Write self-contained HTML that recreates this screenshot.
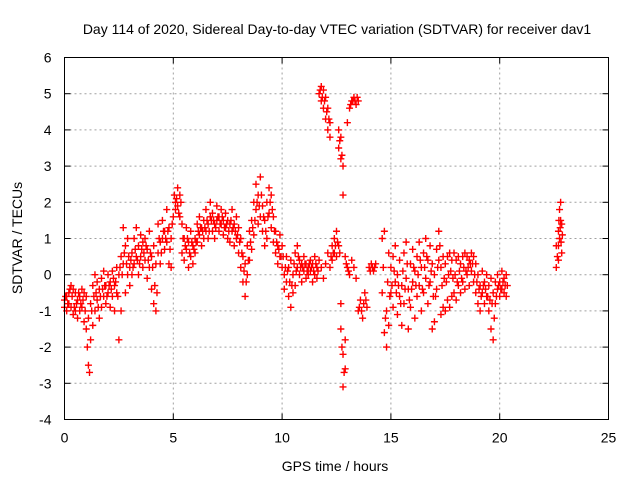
<!DOCTYPE html>
<html><head><meta charset="utf-8"><style>
html,body{margin:0;padding:0;background:#fff;}
svg text{font-family:"Liberation Sans",sans-serif;font-size:14px;fill:#000;}
</style></head><body>
<svg id="chart" width="640" height="480" xmlns="http://www.w3.org/2000/svg">
<rect width="640" height="480" fill="#fff"/>
<text x="337" y="34" text-anchor="middle">Day 114 of 2020, Sidereal Day-to-day VTEC variation (SDTVAR) for receiver dav1</text>
<g id="grid"></g>
<g id="axes"></g>
<g id="points"></g>
<rect x="64.5" y="57.5" width="544" height="362" fill="none" stroke="#000" stroke-width="1"/>
<text x="335" y="471" text-anchor="middle">GPS time / hours</text>
<text transform="translate(22,238) rotate(-90)" text-anchor="middle">SDTVAR / TECUs</text>
</svg>
<script>
const xTicks=[0,5,10,15,20,25];
const yTicks=[-4,-3,-2,-1,0,1,2,3,4,5,6];
const hours=[0.0,0.0,0.1,0.1,0.2,0.2,0.3,0.3,0.4,0.4,0.5,0.5,0.6,0.6,0.7,0.7,0.8,0.8,0.9,0.9,1.0,1.0,1.05,1.1,1.15,1.1,1.2,1.2,1.3,1.3,1.4,1.4,1.5,1.5,1.6,1.6,1.7,1.7,1.8,1.8,1.9,1.9,2.0,2.0,2.1,2.1,2.2,2.2,2.3,2.3,2.4,2.4,2.5,2.5,2.6,2.6,2.7,2.7,2.8,2.8,2.9,2.9,3.0,3.0,3.1,3.1,3.2,3.2,3.3,3.3,3.4,3.4,3.5,3.5,3.6,3.6,3.7,3.7,3.8,3.8,3.9,3.9,4.0,4.0,4.1,4.1,4.2,4.2,4.3,4.3,4.4,4.4,4.5,4.5,4.6,4.6,4.7,4.7,4.8,4.8,4.9,4.9,5.0,5.1,5.1,5.2,5.2,5.3,5.3,5.4,5.4,5.5,5.5,5.6,5.6,5.7,5.7,5.8,5.8,5.9,5.9,6.0,6.0,6.1,6.1,6.2,6.2,6.3,6.3,6.4,6.4,6.5,6.5,6.6,6.6,6.7,6.7,6.8,6.8,6.9,6.9,7.0,7.0,7.1,7.1,7.2,7.2,7.3,7.3,7.4,7.4,7.5,7.5,7.6,7.6,7.7,7.7,7.8,7.8,7.9,7.9,8.0,8.0,8.1,8.1,8.2,8.2,8.3,8.3,8.4,8.4,8.5,8.5,8.6,8.6,8.7,8.7,8.8,8.8,8.9,8.9,9.0,9.0,9.1,9.1,9.2,9.2,9.3,9.3,9.4,9.4,9.5,9.5,9.6,9.6,9.7,9.7,9.8,9.8,9.9,9.9,10.0,10.0,10.1,10.1,10.2,10.2,10.3,10.3,10.4,10.4,10.5,10.5,10.6,10.6,10.7,10.7,10.8,10.8,10.9,10.9,11.0,11.0,11.1,11.1,11.2,11.2,11.3,11.3,11.4,11.4,11.5,11.5,11.6,11.6,11.7,11.7,11.8,11.8,11.9,11.9,12.0,12.0,12.1,12.1,12.2,12.2,11.8,11.9,12.0,12.1,12.2,12.3,12.3,12.4,12.4,12.5,12.5,12.6,12.6,12.6,12.7,12.7,12.8,12.8,12.7,12.7,12.8,12.8,12.9,12.9,12.9,13.0,13.0,13.1,13.1,13.2,13.2,13.3,13.3,13.4,13.4,13.5,13.5,13.6,13.7,13.8,13.9,14.0,14.1,14.2,14.3,14.6,14.6,14.7,14.7,14.8,14.8,14.9,14.9,15.0,15.0,15.1,15.1,15.2,15.2,15.3,15.3,15.4,15.4,15.5,15.5,15.6,15.6,15.7,15.7,15.8,15.8,15.9,15.9,16.0,16.0,16.1,16.1,16.2,16.2,16.3,16.3,16.4,16.4,16.5,16.5,16.6,16.6,16.7,16.7,16.8,16.8,16.9,16.9,17.0,17.0,17.1,17.1,17.2,17.2,17.3,17.3,17.4,17.4,17.5,17.5,17.6,17.6,17.7,17.7,17.8,17.8,17.9,17.9,18.0,18.0,18.1,18.1,18.2,18.2,18.3,18.3,18.4,18.4,18.5,18.5,18.6,18.6,18.7,18.7,18.8,18.8,18.9,18.9,19.0,19.0,19.1,19.1,19.2,19.2,19.3,19.3,19.4,19.4,19.5,19.5,19.6,19.6,19.7,19.7,19.8,19.8,19.9,19.9,20.0,20.0,20.1,20.1,20.2,20.2,20.3,20.3,22.6,22.6,22.7,22.7,22.75,22.75,22.8,22.8,22.85,22.85];
const values=[-0.7,-0.9,-0.6,-1.0,-0.5,-0.8,-0.3,-0.9,-0.4,-1.1,-0.5,-1.0,-0.7,-1.2,-0.6,-1.0,-0.9,-0.4,-1.3,-0.5,-1.5,-0.6,-2.0,-2.5,-2.7,-1.2,-1.8,-0.8,-1.4,-0.3,-1.0,0.0,-0.7,-0.2,-1.2,-0.4,-0.9,-0.1,-0.6,0.1,-0.8,-0.3,-0.5,0.0,-0.9,-0.2,-0.6,0.1,-0.3,-1.0,0.2,-0.5,-1.8,0.0,-1.0,0.5,0.3,1.3,-0.5,0.8,0.0,1.0,0.2,-0.3,0.6,0.0,1.0,0.3,0.5,1.3,0.0,0.8,0.5,1.1,0.2,0.9,0.4,1.0,-0.1,0.7,0.2,1.2,0.5,-0.4,-0.8,0.8,-1.0,0.3,0.6,1.4,0.9,0.3,1.0,1.5,0.7,1.2,1.8,0.9,1.3,0.3,0.2,1.0,1.6,2.0,1.8,2.4,1.9,2.2,1.6,1.4,0.6,1.0,0.4,0.7,1.3,0.9,0.2,0.5,1.2,0.8,0.3,1.0,0.6,1.4,0.9,1.1,1.6,1.3,0.8,1.0,1.5,1.2,1.8,1.4,1.0,1.6,2.0,1.2,1.7,1.4,1.0,1.5,1.9,1.2,1.6,1.4,1.8,1.1,1.5,1.3,1.7,1.0,1.5,1.4,0.9,1.2,1.8,0.8,1.4,1.0,1.6,0.6,1.3,0.2,1.0,-0.2,0.5,-0.6,0.3,0.0,0.8,0.4,1.2,1.5,0.7,2.0,1.1,1.8,2.5,1.4,2.2,2.7,1.6,1.9,1.2,1.5,0.8,2.0,1.0,2.4,1.7,2.2,1.3,1.6,0.9,0.6,1.2,0.8,0.3,1.1,0.5,0.2,0.8,0.0,-0.4,0.5,-0.2,-0.6,0.2,-0.9,0.4,-0.5,0.0,0.6,-0.3,0.2,0.8,0.0,0.4,-0.2,0.3,0.1,0.5,-0.1,0.3,0.2,0.0,0.4,0.1,-0.2,0.3,0.0,0.5,0.2,-0.1,0.4,5.0,5.2,4.8,5.1,4.6,4.9,4.3,4.6,4.0,4.2,3.8,0.2,-0.1,0.3,0.6,0.2,0.8,0.4,1.0,0.6,1.2,0.5,0.8,4.0,3.5,3.2,3.8,3.0,2.2,-0.8,-1.5,-2.2,-3.1,-2.6,-1.8,0.5,0.2,4.2,4.6,0.0,4.8,0.4,4.9,0.2,4.7,-0.1,4.8,-1.0,-0.7,-1.2,-0.5,-0.9,0.2,0.3,0.1,0.3,1.0,-0.5,1.2,-1.6,-2.0,-1.0,-1.4,0.6,-0.5,0.2,-0.9,0.5,-0.2,0.8,-1.1,0.0,-0.6,0.4,-1.4,-0.3,0.6,-0.8,-0.1,0.9,-1.5,-0.4,0.3,-0.9,-0.2,0.7,-1.2,0.1,-0.6,0.5,0.9,-0.3,-1.0,0.2,0.6,-0.5,1.0,-0.1,0.4,-0.8,-0.2,0.8,-1.5,0.3,-1.3,0.0,0.7,-0.4,1.2,0.4,0.2,-1.1,0.5,-0.9,0.3,-1.0,0.5,-0.7,0.6,-0.9,0.4,-0.6,0.6,-0.5,0.4,-0.7,0.5,-0.3,0.3,-0.5,0.5,-0.2,0.6,-0.4,0.5,0.0,0.4,-0.3,0.6,0.1,0.5,-0.2,0.3,-0.5,0.0,-0.8,-0.3,-1.0,0.1,-0.5,-0.2,-0.8,0.0,-0.6,-1.0,-0.3,-1.5,-0.1,-1.8,-0.5,-0.8,-0.2,-0.4,0.0,-0.6,-0.2,-0.4,0.1,-0.5,-0.1,0.0,-0.6,0.2,0.8,1.2,0.4,1.8,1.0,2.0,1.5,0.6,1.4];
const hours2=[0.05,0.15,0.25,0.35,0.45,0.55,0.65,0.75,0.85,0.95,1.25,1.35,1.45,1.55,1.65,1.75,1.85,1.95,2.05,2.15,2.25,2.35,2.45,2.55,2.65,2.75,2.85,2.95,3.05,3.15,3.25,3.35,3.45,3.55,3.65,3.75,3.85,3.95,4.05,4.15,4.25,4.35,4.45,4.55,4.65,4.75,4.85,4.95,5.05,5.15,5.25,5.35,5.45,5.55,5.65,5.75,5.85,5.95,6.05,6.15,6.25,6.35,6.45,6.55,6.65,6.75,6.85,6.95,7.05,7.15,7.25,7.35,7.45,7.55,7.65,7.75,7.85,7.95,8.05,8.15,8.25,8.35,8.45,8.55,8.65,8.75,8.85,8.95,9.05,9.15,9.25,9.35,9.45,9.55,9.65,9.75,9.85,9.95,10.05,10.15,10.25,10.35,10.45,10.55,10.65,10.75,10.85,10.95,11.05,11.15,11.25,11.35,11.45,11.55,11.65,11.75,11.85,11.95,12.05,12.15,12.25,12.35,12.45,12.55,12.65,12.65,12.75,12.75,12.85,12.95,13.05,13.15,13.25,13.35,13.45,13.55,13.65,13.75,13.85,14.05,14.15,14.25,14.65,14.75,14.85,14.95,15.05,15.15,15.25,15.35,15.45,15.55,15.65,15.75,15.85,15.95,16.05,16.15,16.25,16.35,16.45,16.55,16.65,16.75,16.85,16.95,17.05,17.15,17.25,17.35,17.45,17.55,17.65,17.75,17.85,17.95,18.05,18.15,18.25,18.35,18.45,18.55,18.65,18.75,18.85,18.95,19.05,19.15,19.25,19.35,19.45,19.55,19.65,19.75,19.85,19.95,20.05,20.15,20.25,20.35,22.65,22.7,22.72,22.78,22.82,22.88];
const values2=[-0.6,-0.8,-0.4,-0.6,-0.9,-0.8,-0.5,-0.8,-0.7,-1.0,-1.0,-0.6,-0.5,-0.9,-0.6,-0.4,-0.3,-0.6,-0.3,-0.4,-0.1,-0.2,-0.6,0.2,0.0,0.6,0.3,0.5,0.4,0.2,0.7,0.4,0.3,0.7,0.6,0.8,0.4,0.6,0.2,-0.3,-0.5,1.0,0.6,1.2,1.0,1.2,0.7,1.4,2.2,2.1,1.7,2.0,1.0,0.8,1.0,0.6,0.9,0.7,0.9,1.2,1.3,1.2,1.3,1.5,1.2,1.5,1.5,1.3,1.6,1.4,1.6,1.3,1.4,1.2,1.5,1.3,1.2,1.1,0.9,0.6,0.1,-0.2,0.4,0.9,1.3,1.5,2.0,1.9,2.2,1.6,1.2,1.6,2.0,1.8,1.2,0.9,0.7,0.5,0.5,0.2,0.1,-0.2,-0.3,0.3,0.1,0.5,0.2,0.2,0.3,0.1,0.3,0.2,0.1,0.3,0.1,5.1,4.9,4.8,4.5,4.3,0.5,0.6,0.8,0.9,0.6,3.7,3.3,-2.0,-2.7,0.3,0.1,4.7,4.8,4.8,4.9,-0.9,-1.0,-0.8,-0.7,0.1,0.2,0.2,0.2,-1.2,-0.2,-0.6,-0.3,0.1,-0.5,-0.3,-0.8,0.1,-0.4,0.3,-0.7,-0.4,0.2,-0.3,0.0,0.4,-0.4,0.2,0.5,-0.3,0.1,-0.6,-0.6,0.2,0.8,-0.3,-0.1,-0.2,0.0,0.1,-0.1,0.0,-0.2,0.1,-0.1,0.2,0.1,0.2,0.3,0.3,0.0,-0.2,-0.4,-0.6,-0.3,-0.4,-0.6,-0.7,-0.8,-1.2,-0.6,-0.3,-0.4,-0.2,-0.3,-0.3,0.5,0.8,1.5,1.3,0.9,1.1];

const NS='http://www.w3.org/2000/svg';
const L=64.5,R=608.5,T=57.5,B=419.5;
function xs(v){return L+(v-0)/(25-0)*(R-L);}
function ys(v){return B-(v+4)/(6+4)*(B-T);}
const grid=document.getElementById('grid'),axes=document.getElementById('axes'),pts=document.getElementById('points');
function mk(tag,attrs,parent){const e=document.createElementNS(NS,tag);for(const k in attrs)e.setAttribute(k,attrs[k]);parent.appendChild(e);return e;}
xTicks.forEach(v=>{
  const x=xs(v);
  if(v>0&&v<25){const g=mk('line',{x1:x,x2:x,y1:T,y2:B,stroke:'#a0a0a0','stroke-dasharray':'2,3'},grid);
  
  }
  const t1=mk('line',{x1:x,x2:x,y1:B,y2:B-6,stroke:'#000'},axes);
  
  
  const t2=mk('line',{x1:x,x2:x,y1:T,y2:T+6,stroke:'#000'},axes);
  
  
  const tx=mk('text',{x:x,y:B+23,'text-anchor':'middle'},axes);tx.textContent=v;
  
  
});
yTicks.forEach(v=>{
  const y=ys(v);
  if(v>-4&&v<6){const g=mk('line',{x1:L,x2:R,y1:y,y2:y,stroke:'#a0a0a0','stroke-dasharray':'2,3'},grid);
  
  }
  const t1=mk('line',{x1:L,x2:L+6,y1:y,y2:y,stroke:'#000'},axes);
  
  
  const t2=mk('line',{x1:R,x2:R-6,y1:y,y2:y,stroke:'#000'},axes);
  
  
  const tx=mk('text',{x:L-13,y:y+5,'text-anchor':'end'},axes);tx.textContent=v;
  
  
});
let d='';
function addPts(hs,vs){for(let i=0;i<hs.length;i++){const x=xs(hs[i]),y=ys(vs[i]);d+=`M${x-3.5},${y}h7M${x},${y-3.5}v7`;}}
addPts(hours,values);
addPts(hours2,values2);
const p=mk('path',{d:d,stroke:'#ff0000','stroke-width':1.4,fill:'none'},pts);


</script>
</body></html>
